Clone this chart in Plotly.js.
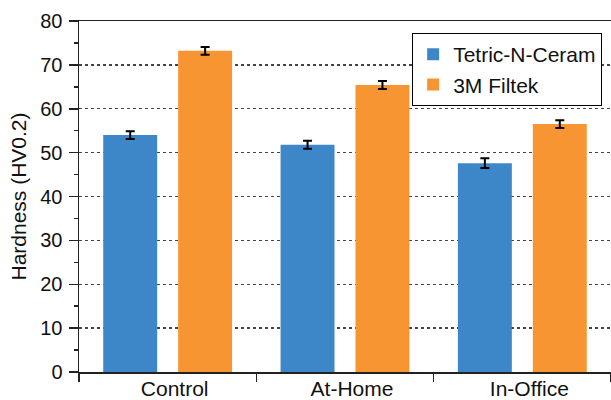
<!DOCTYPE html>
<html>
<head>
<meta charset="utf-8">
<script src="https://cdn.plot.ly/plotly-3.0.1.min.js"></script>
<style>html,body{margin:0;padding:0;background:#fff;}#chart{width:611px;height:400px;}</style>
</head>
<body>
<div id="chart"></div>
<script>
const categories = ["Control", "At-Home", "In-Office"];
const seriesNames = ["Tetric-N-Ceram", "3M Filtek"];
const tetricValues = [54.0, 51.8, 47.6];
const tetricErrors = [0.9, 0.9, 1.1];
const filtekValues = [73.2, 65.4, 56.5];
const filtekErrors = [0.9, 0.9, 0.9];
const yTickVals = [0, 10, 20, 30, 40, 50, 60, 70, 80];

const errStyle = {type: 'data', visible: true, color: '#000', thickness: 2, width: 4.5};

const traces = [
  {type: 'bar', name: seriesNames[0], x: categories, y: tetricValues,
   marker: {color: '#3d87c9'}, error_y: Object.assign({array: tetricErrors}, errStyle)},
  {type: 'bar', name: seriesNames[1], x: categories, y: filtekValues,
   marker: {color: '#f79533'}, error_y: Object.assign({array: filtekErrors}, errStyle)}
];

const fam = 'Liberation Sans, Arial, sans-serif';
const f = (s) => ({family: fam, size: s, color: '#111'});

const layout = {
  width: 611, height: 400,
  margin: {l: 79, r: 0, t: 21, b: 28},
  paper_bgcolor: '#fff', plot_bgcolor: '#fff',
  font: f(20),
  barmode: 'group', bargap: 0.155, bargroupgap: 0.28,
  showlegend: true,
  legend: {x: 0.983, y: 0.966, xanchor: 'right', yanchor: 'top',
    bgcolor: '#fff', bordercolor: '#000', borderwidth: 1.2,
    font: f(21), tracegroupgap: 0, itemwidth: 30},
  xaxis: {type: 'category', range: [-0.5, 2.5], showline: true, linecolor: '#222', linewidth: 1.5,
    mirror: true, ticks: 'outside', tickson: 'boundaries', ticklen: 8, tickwidth: 1.5, tickcolor: '#222',
    showgrid: false, zeroline: false, tickfont: f(21), ticklabelstandoff: -3, ticklabelshift: 7},
  yaxis: {range: [0, 80], tickvals: yTickVals, showline: true, linecolor: '#222', linewidth: 1.5,
    ticks: 'outside', ticklen: 9, tickwidth: 1.5, tickcolor: '#222',
    showgrid: true, gridcolor: '#444', gridwidth: 1.3, griddash: 'dot', zeroline: false,
    minor: {ticks: 'outside', ticklen: 4, tickwidth: 1.5, tickcolor: '#222', dtick: 5, showgrid: false},
    tickfont: f(20), ticklabelstandoff: 2,
    title: {text: 'Hardness (HV0.2)', font: f(21), standoff: 8}}
};

Plotly.newPlot('chart', traces, layout, {displayModeBar: false, staticPlot: true});
</script>
</body>
</html>
